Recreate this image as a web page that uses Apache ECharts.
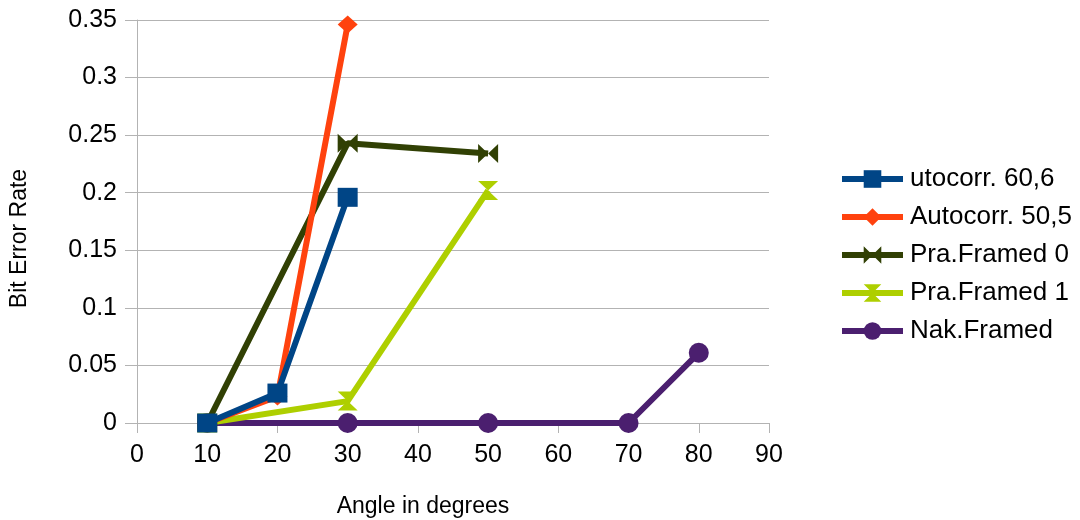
<!DOCTYPE html>
<html><head><meta charset="utf-8">
<script src="https://cdn.jsdelivr.net/npm/echarts@6/dist/echarts.min.js"></script>
<style>html,body{margin:0;padding:0;background:#fff;overflow:hidden}#c{width:1080px;height:520px}</style>
</head><body><div id="c"></div>
<script>
const seriesNames = ['utocorr. 60,6', 'Autocorr. 50,5', 'Pra.Framed 0', 'Pra.Framed 1', 'Nak.Framed'];
const utocorrX = [10, 20, 30];
const utocorrY = [0, 0.026, 0.196];
const autocorrX = [10, 20, 30];
const autocorrY = [0, 0.023, 0.346];
const pra0X = [10, 30, 50];
const pra0Y = [0, 0.243, 0.234];
const pra1X = [10, 30, 50];
const pra1Y = [0, 0.019, 0.202];
const nakX = [10, 30, 50, 70, 80];
const nakY = [0, 0, 0, 0, 0.061];
const colors = ['#004586', '#ff420e', '#314004', '#aecf00', '#4b1f6f'];
const zip = (xs, ys) => xs.map((x, i) => [x, ys[i]]);
const FONT = 'Liberation Sans';
const symbols = ['rect', 'diamond', 'path://M0,0 L10,5 L20,0 L20,10 L10,5 L0,10 Z', 'path://M0,0 L10,0 L5,5 L10,10 L0,10 L5,5 Z', 'circle'];
const sizes = [[20,19],[20,18],[20,19],[20,19],[20,20]];
const datas = [zip(utocorrX, utocorrY), zip(autocorrX, autocorrY), zip(pra0X, pra0Y), zip(pra1X, pra1Y), zip(nakX, nakY)];
const zs = [10, 8, 6, 5, 4];
const chart = echarts.init(document.getElementById('c'));
chart.setOption({
  animation: false,
  textStyle: { fontFamily: FONT },
  color: colors,
  grid: { left: 137, right: 311, top: 20, bottom: 97, containLabel: false, outerBoundsMode: 'none' },
  legend: {
    orient: 'vertical', left: 834, top: 161, itemWidth: 61, itemHeight: 22, itemGap: 12,
    lineStyle: { width: 6 },
    textStyle: { fontFamily: FONT, fontSize: 26, color: '#000', padding: [0, 0, 0, 2] },
    data: seriesNames
  },
  xAxis: {
    type: 'value', min: 0, max: 90, interval: 10,
    name: 'Angle in degrees', nameLocation: 'middle', nameGap: 72,
    nameTextStyle: { fontFamily: FONT, fontSize: 23, color: '#000', padding: [0, 60, 0, 0] },
    axisLine: { show: true, lineStyle: { color: '#b3b3b3', width: 1 } },
    axisTick: { show: true, length: 10, lineStyle: { color: '#b3b3b3' } },
    axisLabel: { fontFamily: FONT, fontSize: 25, color: '#000', margin: 20 },
    splitLine: { show: false }
  },
  yAxis: {
    type: 'value', min: 0, max: 0.35, interval: 0.05,
    name: 'Bit Error Rate', nameLocation: 'middle', nameGap: 106, nameRotate: 90,
    nameTextStyle: { fontFamily: FONT, fontSize: 23, color: '#000', padding: [0, 34, 0, 0] },
    axisLine: { show: true, lineStyle: { color: '#b3b3b3', width: 1 } },
    axisTick: { show: true, length: 12, lineStyle: { color: '#b3b3b3' } },
    axisLabel: { fontFamily: FONT, fontSize: 25, color: '#000', margin: 20 },
    splitLine: { show: true, lineStyle: { color: '#b3b3b3', width: 1 } }
  },
  series: seriesNames.map((n, i) => ({
    name: n, type: 'line', data: datas[i], z: zs[i],
    symbol: symbols[i], symbolSize: sizes[i], showAllSymbol: true,
    lineStyle: { width: 6, color: colors[i] },
    itemStyle: { color: colors[i] }
  }))
});
</script></body></html>
